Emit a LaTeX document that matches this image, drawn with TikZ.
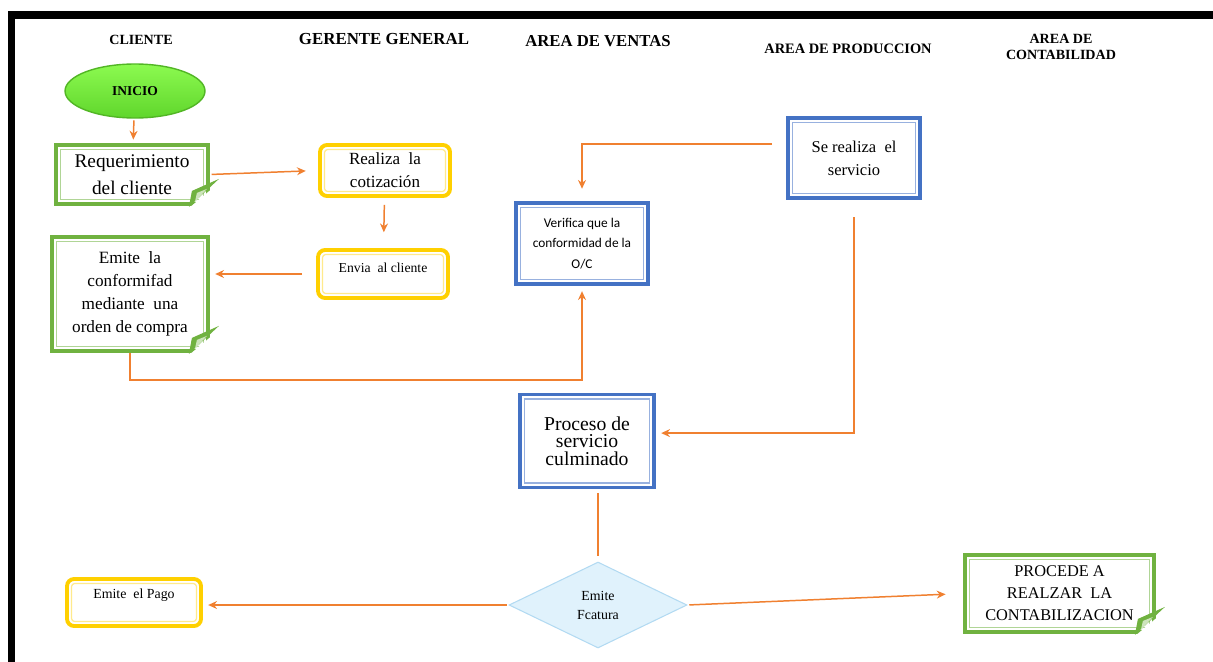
\documentclass[tikz,border=0pt]{standalone}
\usepackage{fontspec}
\setmainfont{Liberation Serif}
\newfontfamily\calibri{Carlito}
\usepackage{xcolor}
\usepackage{tikz}
\usetikzlibrary{shapes.geometric,arrows.meta}

\definecolor{naranja}{RGB}{240,128,48}
\definecolor{azul}{RGB}{68,114,196}
\definecolor{verde}{RGB}{112,178,64}
\definecolor{amarillo}{RGB}{255,208,0}
\definecolor{celeste}{RGB}{224,242,252}
\definecolor{celesteborde}{RGB}{178,218,242}
\definecolor{inicioclaro}{RGB}{140,250,80}
\definecolor{iniciooscuro}{RGB}{96,214,44}

\tikzset{
  marco/.style={draw=#1, line width=2.2pt, fill=white, align=center,
    path picture={\draw[#1!55, line width=0.7pt]
      ([shift={(2.5pt,2.5pt)}]path picture bounding box.south west) rectangle
      ([shift={(-2.5pt,-2.5pt)}]path picture bounding box.north east);}},
  caja/.style={marco=azul},
  hoja/.style={marco=verde},
  redondo/.style={draw=amarillo, line width=2.2pt, rounded corners=4pt, fill=white, align=center,
    path picture={\draw[amarillo!45, line width=0.7pt, rounded corners=2pt]
      ([shift={(2.5pt,2.5pt)}]path picture bounding box.south west) rectangle
      ([shift={(-2.5pt,-2.5pt)}]path picture bounding box.north east);}},
  flecha/.style={draw=naranja, line width=0.85pt, -{Stealth[length=5pt,width=4.5pt]}},
  linea/.style={draw=naranja, line width=0.85pt},
}

% folded corner of the green boxes
\newcommand{\doblez}[1]{%
  \fill[white] ([shift={(-22,3)}]#1.south east) -- ([shift={(3,3)}]#1.south east) -- ([shift={(3,-18)}]#1.south east) -- cycle;
  \fill[verde] ([shift={(-21,1)}]#1.south east) -- ([shift={(-18,-15)}]#1.south east) -- ([shift={(9,-27)}]#1.south east) -- cycle;
  \fill[verde!35] ([shift={(-15,-4)}]#1.south east) -- ([shift={(-13,-13)}]#1.south east) -- ([shift={(-3,-17)}]#1.south east) -- cycle;
}

\begin{document}
\begin{tikzpicture}[x=0.02cm, y=-0.02cm]
		\useasboundingbox (0,0) rectangle (1213,662);
		% draw the black frame
		\fill (8,11) rectangle (1213,19);
		\fill (8,11) rectangle (15,662);
		
		% the column titles
		\node[font=\fontsize{8}{9.6}\selectfont\bfseries] (cliente) at (141,40) {CLIENTE};
		\node[font=\fontsize{9.6}{11}\selectfont\bfseries] (gerente) at (384,39) {GERENTE GENERAL};
		\node[font=\fontsize{9.5}{11}\selectfont\bfseries] (ventas) at (598,41) {AREA DE VENTAS};
		\node[font=\fontsize{8.2}{10}\selectfont\bfseries] (produccion) at (848,49) {AREA DE PRODUCCION};
		\node[font=\fontsize{8}{9}\selectfont\bfseries, align=center] (contabilidad) at (1061,47) {AREA DE\\CONTABILIDAD};
		
		% the boxes
		\node[ellipse, top color=inicioclaro, bottom color=iniciooscuro, draw=iniciooscuro!85!black, line width=0.8pt,
		minimum width=2.8cm, minimum height=1.08cm, font=\fontsize{7.7}{9}\selectfont\bfseries] (inicio) at (135,91) {INICIO};
		\node[hoja, minimum width=3.04cm, minimum height=1.18cm, font=\fontsize{11}{15.3}\selectfont] (req) at (132,174.5) {Requerimiento\\del cliente};
		\node[redondo, minimum width=2.6cm, minimum height=1.02cm, font=\fontsize{9.7}{13}\selectfont] (cotiz) at (385,170.5) {Realiza\ \ la\\cotización};
		\node[redondo, minimum width=2.6cm, minimum height=0.96cm, font=\fontsize{7.8}{7}\selectfont] (envia) at (383,274) {Envia\ \ al cliente\\\mbox{}};
		\node[hoja, minimum width=3.12cm, minimum height=2.28cm, font=\fontsize{9.8}{13}\selectfont] (conforme) at (130,294) {Emite\ \ la\\conformifad\\mediante\ \ una\\orden de compra};
		\node[caja, minimum width=2.64cm, minimum height=1.62cm, font=\calibri\fontsize{7.6}{11.6}\selectfont] (verifica) at (582,243.5) {Verifica que la\\conformidad de la\\O/C};
		\node[caja, minimum width=2.64cm, minimum height=1.6cm, font=\fontsize{9.4}{13}\selectfont] (servicio) at (854,158) {Se realiza\ \ el\\servicio};
		\node[caja, minimum width=2.68cm, minimum height=1.86cm, font=\fontsize{11.2}{10}\selectfont] (proceso) at (587,441) {Proceso de\\servicio\\culminado};
		\node[diamond, fill=celeste, draw=celesteborde, line width=0.6pt, inner sep=0pt, align=center,
		minimum width=3.56cm, minimum height=1.72cm, font=\fontsize{7.9}{10.8}\selectfont] (factura) at (598,605) {Emite\\Fcatura};
		\node[redondo, minimum width=2.68cm, minimum height=0.94cm, font=\fontsize{7.9}{9.6}\selectfont] (pago) at (134,602.5) {Emite\ \ el Pago\\\mbox{}};
		\node[hoja, minimum width=3.78cm, minimum height=1.54cm, font=\fontsize{9.3}{12.5}\selectfont] (procede) at (1059.5,593.5) {PROCEDE A\\REALZAR\ \ LA\\CONTABILIZACION};
		
		\doblez{req}
		\doblez{conforme}
		\doblez{procede}
		
		% draw the connecting lines
		\draw[flecha, shorten <=1pt, shorten >=2pt] (inicio) -- (req);
		\draw[flecha, shorten <=1pt, shorten >=7pt] (req.east) -- (cotiz.west);
		\draw[flecha, shorten <=4pt, shorten >=9pt] (cotiz) -- (envia);
		\draw[flecha, shorten <=8pt, shorten >=3pt] (envia.west) -- (envia.west -| conforme.east);
		\draw[flecha, shorten >=3pt] (conforme.south) -- ++(0,27) -| (verifica.south);
		\draw[flecha, shorten <=8pt, shorten >=7pt] ([yshift=8pt]servicio.west) -| (verifica.north);
		\draw[flecha, shorten <=10pt, shorten >=3pt] (servicio.south) |- ([yshift=4.5pt]proceso.east);
		\draw[linea, shorten <=2pt, shorten >=3pt] (factura.north |- proceso.south) -- (factura.north);
		\draw[flecha, shorten <=1pt, shorten >=3pt] (factura.west) -- (factura.west -| pago.east);
		\draw[flecha, shorten <=1pt, shorten >=10pt] (factura.east) -- (procede.west);
\end{tikzpicture}
\end{document}
